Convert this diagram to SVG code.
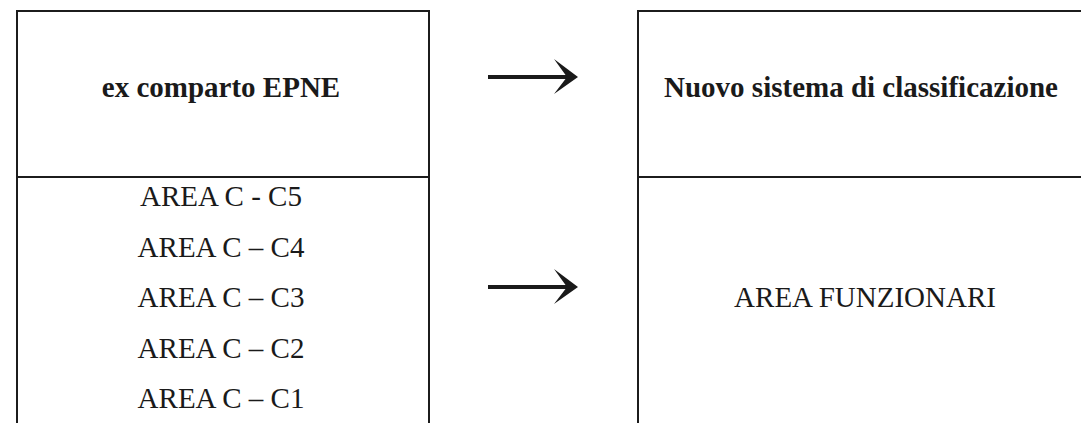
<svg xmlns="http://www.w3.org/2000/svg" width="1081" height="423" viewBox="0 0 1081 423">
<style>
.ln{stroke:#1c1c1c;stroke-width:2;fill:none}
.t{font-family:"Liberation Serif","Times New Roman",serif;font-size:29px;fill:#1a1a1a;text-anchor:middle}
.b{font-weight:bold}
.sh{stroke:#1a1a1a;stroke-width:4;fill:none}
.hd{fill:#1a1a1a}
</style>
<defs>
<g id="arrow">
<line class="sh" x1="488" y1="0" x2="570" y2="0"/>
<path class="hd" d="M554,-18 L578,0 L554,17 L567,0 Z"/>
</g>
</defs>
<rect width="1081" height="423" fill="#ffffff"/>
<g id="left-box">
<path class="ln" d="M17,423 V11 H429 V423"/>
<line class="ln" x1="17" y1="177" x2="429" y2="177"/>
<text class="t b" x="221" y="97">ex comparto EPNE</text>
<text class="t" x="221" y="206">AREA C - C5</text>
<text class="t" x="221" y="257">AREA C – C4</text>
<text class="t" x="221" y="307">AREA C – C3</text>
<text class="t" x="221" y="358">AREA C – C2</text>
<text class="t" x="221" y="408">AREA C – C1</text>
</g>
<g id="right-box">
<path class="ln" d="M638,423 V11 H1081"/>
<line class="ln" x1="638" y1="177" x2="1081" y2="177"/>
<text class="t b" x="861" y="97">Nuovo sistema di classificazione</text>
<text class="t" x="865" y="307">AREA FUNZIONARI</text>
</g>
<g id="connectors">
<use href="#arrow" transform="translate(0,77)"/>
<use href="#arrow" transform="translate(0,287)"/>
</g>
</svg>
